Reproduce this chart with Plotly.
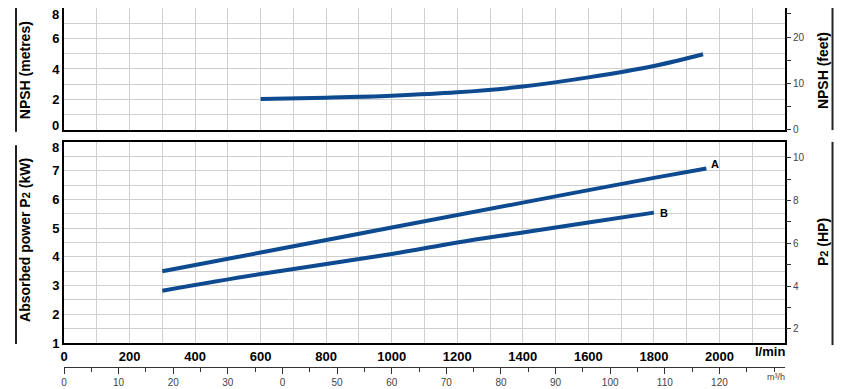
import plotly.graph_objects as go

# ---- data ----
flow_npsh = [600, 800, 1000, 1200, 1400, 1600, 1800, 1950]
npsh_m = [2.03, 2.12, 2.25, 2.47, 2.85, 3.45, 4.2, 4.97]

flow_a = [300, 600, 1000, 1400, 1800, 1960]
power_a = [3.5, 4.15, 5.02, 5.89, 6.75, 7.08]

flow_b = [300, 600, 1000, 1200, 1400, 1600, 1800]
power_b = [2.82, 3.4, 4.1, 4.5, 4.85, 5.2, 5.54]

x_ticks_lmin = [0, 200, 400, 600, 800, 1000, 1200, 1400, 1600, 1800, 2000]
x_ticks_m3h = [0, 10, 20, 30, 40, 50, 60, 70, 80, 90, 100, 110, 120]
x_ticktext_m3h = ["0", "10", "20", "30", "0", "50", "60", "70", "80", "90", "100", "110", "120"]
npsh_m_ticks = [0, 2, 4, 6, 8]
kw_ticks = [1, 2, 3, 4, 5, 6, 7, 8]
npsh_ft_ticks = [0, 10, 20]
hp_ticks = [2, 4, 6, 8, 10]

# ---- style ----
BLUE = "#0d4a8f"
GRID = "#cfcfcf"
FONT = "Liberation Sans Narrow, Liberation Sans, Arial, sans-serif"
BOLD = dict(family=FONT, size=13, color="black", weight="bold")
GREYF = dict(family="Liberation Sans, Arial, sans-serif", size=10, color="#444")

X_MAX = 2200
NPSH_MAX = 8
KW_MIN, KW_MAX = 1, 8

fig = go.Figure()

fig.add_trace(go.Scatter(x=flow_npsh, y=npsh_m, mode="lines", line=dict(color=BLUE, width=4, shape="spline"),
                         xaxis="x2", yaxis="y3", showlegend=False, hoverinfo="skip"))
fig.add_trace(go.Scatter(x=flow_a, y=power_a, mode="lines", line=dict(color=BLUE, width=4, shape="spline"),
                         xaxis="x", yaxis="y", showlegend=False, hoverinfo="skip"))
fig.add_trace(go.Scatter(x=flow_b, y=power_b, mode="lines", line=dict(color=BLUE, width=4, shape="spline"),
                         xaxis="x", yaxis="y", showlegend=False, hoverinfo="skip"))
# helper traces so the secondary axes exist
fig.add_trace(go.Scatter(x=[None], y=[None], xaxis="x", yaxis="y2", showlegend=False, hoverinfo="skip"))
fig.add_trace(go.Scatter(x=[None], y=[None], xaxis="x2", yaxis="y4", showlegend=False, hoverinfo="skip"))
fig.add_trace(go.Scatter(x=[None], y=[None], xaxis="x3", yaxis="y", showlegend=False, hoverinfo="skip"))

frame = dict(showline=True, linecolor="black", linewidth=2, mirror=True, zeroline=False, automargin=False)
minor_x = dict(dtick=100, tick0=0, showgrid=True, gridcolor=GRID, gridwidth=1)

# end labels of the left axes are nudged inwards (as in the reference), drawn as annotations
npsh_inner = [v for v in npsh_m_ticks if v not in (0, NPSH_MAX)]
kw_inner = [v for v in kw_ticks if v != KW_MAX]

# page body adds an 8px margin, so the figure is 8px smaller and offsets are compensated
fig.update_layout(
    width=842, height=381,
    margin=dict(l=56, r=65, t=0, b=22, autoexpand=False),
    paper_bgcolor="white", plot_bgcolor="white",
    xaxis=dict(domain=[0, 1], range=[0, X_MAX], anchor="y", tickvals=x_ticks_lmin,
               showgrid=True, gridcolor=GRID, minor=minor_x, tickfont=BOLD, ticks="", **frame),
    xaxis2=dict(domain=[0, 1], range=[0, X_MAX], anchor="y3", matches="x", tickvals=x_ticks_lmin,
                showgrid=True, gridcolor=GRID, minor=minor_x, showticklabels=False, ticks="", **frame),
    xaxis3=dict(overlaying="x", anchor="free", position=0, range=[0, X_MAX * 0.06],
                tickvals=x_ticks_m3h, ticktext=x_ticktext_m3h, ticks="outside", ticklen=6,
                tickcolor="#333", tickwidth=1, automargin=False,
                minor=dict(dtick=5, tick0=0, ticks="outside", ticklen=4, tickcolor="#333"),
                showgrid=False, showline=True, linecolor="#333", linewidth=1, zeroline=False,
                tickfont=GREYF),
    yaxis=dict(domain=[0.0669, 0.6267], range=[KW_MIN, KW_MAX], tickvals=kw_inner, anchor="x",
               showgrid=True, gridcolor=GRID,
               minor=dict(dtick=0.5, tick0=0, showgrid=True, gridcolor=GRID),
               tickfont=BOLD, ticks="", **frame),
    yaxis2=dict(overlaying="y", side="right", anchor="x", range=[KW_MIN / 0.7457, KW_MAX / 0.7457],
                tickvals=hp_ticks, ticks="outside", ticklen=5, tickcolor="#333", automargin=False,
                minor=dict(dtick=1, tick0=0, ticks="outside", ticklen=5, tickcolor="#333"),
                showgrid=False, zeroline=False, showline=False, tickfont=GREYF),
    yaxis3=dict(domain=[0.6602, 1], range=[0, NPSH_MAX], tickvals=npsh_inner, anchor="x2",
                showgrid=True, gridcolor=GRID,
                minor=dict(dtick=1, tick0=0, showgrid=True, gridcolor=GRID),
                tickfont=BOLD, ticks="", **frame),
    yaxis4=dict(overlaying="y3", side="right", anchor="x2", range=[0, NPSH_MAX / 0.3048],
                tickvals=npsh_ft_ticks, ticks="outside", ticklen=5, tickcolor="#333", automargin=False,
                minor=dict(dtick=5, tick0=0, ticks="outside", ticklen=5, tickcolor="#333"),
                showgrid=False, zeroline=False, showline=False, tickfont=GREYF),
)

# nudged end labels
for val, yref, shift in [(NPSH_MAX, "y3", -6), (0, "y3", 4), (KW_MAX, "y", -5)]:
    fig.add_annotation(text=f"{val:g}", x=0, xref="paper", y=val, yref=yref, xanchor="right", yanchor="middle",
                       xshift=-4, yshift=shift, showarrow=False, borderpad=0, font=BOLD)

TITLE = dict(family=FONT, size=14, color="black", weight="bold")
P2 = "P<span style='font-size:11px'>2</span>"
ann = [
    dict(text="NPSH (metres)", x=-0.054, y=0.827, textangle=-90, font=TITLE),
    dict(text="Absorbed power " + P2 + " (kW)", x=-0.054, y=0.354, textangle=-90, font=TITLE),
    dict(text="NPSH (feet)", x=1.0527, y=0.827, textangle=-90, font=TITLE),
    dict(text=P2 + " (HP)", x=1.0527, y=0.348, textangle=-90, font=TITLE),
]
for a in ann:
    fig.add_annotation(xref="paper", yref="paper", showarrow=False, xanchor="center", yanchor="middle", **a)

fig.add_annotation(text="l/min", xref="paper", yref="paper", x=1.003, y=0.0418, xanchor="right",
                   yanchor="middle", showarrow=False, font=BOLD)
fig.add_annotation(text="m³/h", xref="paper", yref="paper", x=1.003, y=-0.028, xanchor="right",
                   yanchor="middle", showarrow=False, font=dict(family=GREYF["family"], size=9, color="#444"))

# curve labels at the ends of the curves
fig.add_annotation(text="A", x=flow_a[-1], y=power_a[-1], xref="x", yref="y", xanchor="left", yanchor="bottom",
                   xshift=3, yshift=-4, showarrow=False, font=dict(family=FONT, size=11, color="black", weight="bold"))
fig.add_annotation(text="B", x=flow_b[-1], y=power_b[-1], xref="x", yref="y", xanchor="left", yanchor="middle",
                   xshift=4, showarrow=False, font=dict(family=FONT, size=11, color="black", weight="bold"))

# side rules next to the axis titles
lines = [(-0.0666, 1.003, 0.655), (-0.0666, 0.618, 0.064), (1.0659, 1.008, 0.660), (1.0659, 0.627, 0.061)]
for x, y0, y1 in lines:
    fig.add_shape(type="line", xref="paper", yref="paper", x0=x, x1=x, y0=y0, y1=y1,
                  line=dict(color="#222", width=2))

fig.write_html("out.html")
